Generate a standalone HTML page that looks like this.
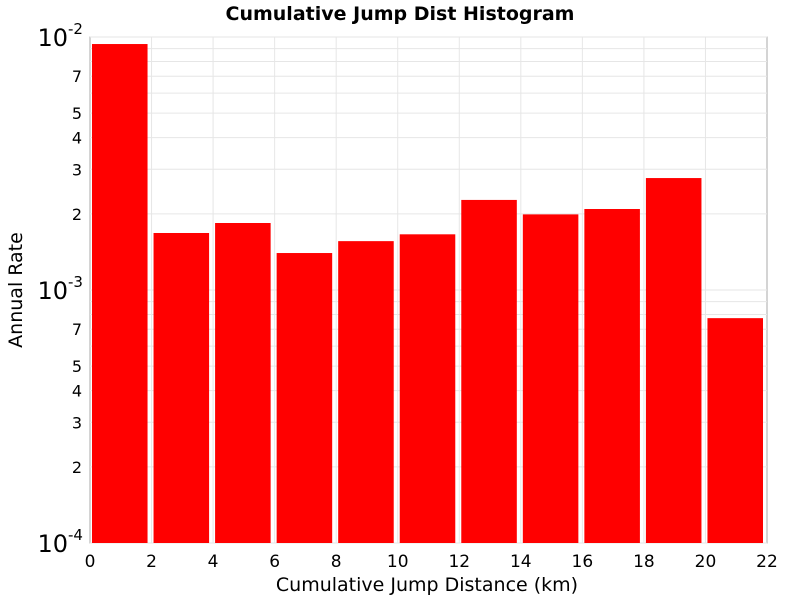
<!DOCTYPE html>
<html><head><meta charset="utf-8"><style>
body{margin:0;background:#fff;}
svg{display:block;font-family:"Liberation Sans","DejaVu Sans",sans-serif;}
</style></head><body>
<svg id="chart" width="800" height="600">
<text x="400" y="20" text-anchor="middle" font-size="19" font-weight="bold" font-family="DejaVu Sans, sans-serif">Cumulative Jump Dist Histogram</text>
<rect x="90" y="37" width="677" height="506" fill="#fff" stroke="#aaa"/>
<g id="grid"></g><g id="bars"></g><g id="axes"></g>
<text x="427" y="591" text-anchor="middle" font-size="19" font-family="DejaVu Sans, sans-serif">Cumulative Jump Distance (km)</text>
<text transform="translate(22,290) rotate(-90)" text-anchor="middle" font-size="19" font-family="DejaVu Sans, sans-serif">Annual Rate</text>
</svg>
<script>
const binStarts=[0,2,4,6,8,10,12,14,16,18,20];
const binWidth=2;
const rates=[0.00938,0.00168,0.00184,0.00140,0.00156,0.00166,0.00227,0.00199,0.00209,0.00277,0.000774];
const xTicks=[0,2,4,6,8,10,12,14,16,18,20,22];
const yMinorTicks=[2,3,4,5,7];
const yDecades=[-4,-3,-2];
const NS="http://www.w3.org/2000/svg";
const X0=90,X1=767,Y0=543,Y1=37,xmin=0,xmax=22,lmin=-4,lmax=-2;
function xs(v){return X0+(v-xmin)/(xmax-xmin)*(X1-X0);}
function ys(v){return Y0-(Math.log10(v)-lmin)/(lmax-lmin)*(Y0-Y1);}
function mk(tag,attrs,parent){const e=document.createElementNS(NS,tag);for(const k in attrs)e.setAttribute(k,attrs[k]);parent.appendChild(e);return e;}
const grid=document.getElementById('grid'),bars=document.getElementById('bars'),axes=document.getElementById('axes');
xTicks.forEach(t=>{
 const x=xs(t);
 if(t>xmin&&t<xmax){const l=mk('line',{x1:x,x2:x,y1:Y1,y2:Y0,stroke:'#e6e6e6'},grid);
 
 }
 const tx=mk('text',{x:x,y:567,'text-anchor':'middle','font-size':17,'font-family':'DejaVu Sans, sans-serif'},axes);
 tx.textContent=t;
 
 
});
for(let d=-4;d<-2;d++){
 for(let m=1;m<=9;m++){
  const v=m*Math.pow(10,d);const y=ys(v);
  if(m>1){const l=mk('line',{x1:X0,x2:X1,y1:y,y2:y,stroke:'#e6e6e6'},grid);
  
  }
  if(yMinorTicks.includes(m)){
   const tx=mk('text',{x:82,y:y+6,'text-anchor':'end','font-size':16,'font-family':'DejaVu Sans, sans-serif'},axes);
   tx.textContent=m;
   
   
  }
 }
}
yDecades.forEach(d=>{
 const y=ys(Math.pow(10,d));
 const l=mk('line',{x1:X0,x2:X1,y1:y,y2:y,stroke:'#e6e6e6'},grid);
 
 
 const tx=mk('text',{x:68,y:y+9,'text-anchor':'end','font-size':24,'font-family':'DejaVu Sans, sans-serif'},axes);
 tx.textContent='10';
 
 
 const sup=mk('text',{x:68,y:y-3,'text-anchor':'start','font-size':15,'font-family':'DejaVu Sans, sans-serif'},axes);
 sup.textContent=String(d);
 
 
});
binStarts.forEach((s,i)=>{
 const xa=xs(s)+2,xb=xs(s+binWidth)-4,yt=ys(rates[i]);
 const r=mk('rect',{x:xa,y:yt,width:xb-xa,height:Y0-yt,fill:'#ff0000'},bars);
 
 
});
</script>
</body></html>
